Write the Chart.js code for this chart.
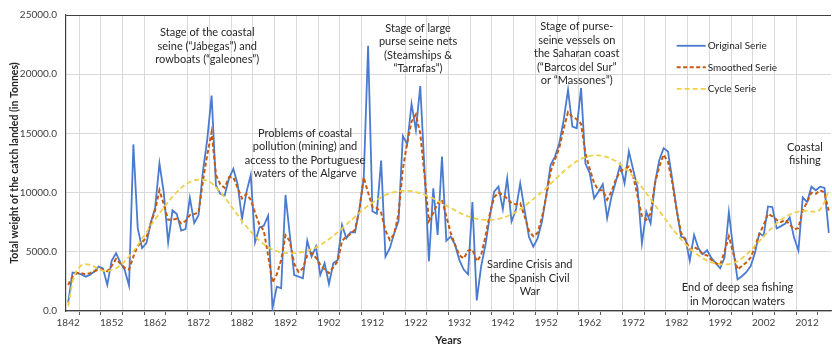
<!DOCTYPE html>
<html>
<head>
<meta charset="utf-8">
<script src="https://cdn.jsdelivr.net/npm/chart.js@4/dist/chart.umd.min.js"></script>
<style>
  html, body { margin: 0; padding: 0; background: #fff; }
  canvas { display: block; }
</style>
</head>
<body>
<canvas id="catchChart" width="832" height="344"></canvas>
<script>
const firstYear = 1842;

const originalSerie = [
  700, 3250, 3200, 3100, 2900, 3050, 3330, 3750, 3600, 2200,
  4240, 4890, 4100, 3470, 2150, 14070, 7000, 5310, 5730, 7430,
  8700, 12460, 9970, 5790, 8500, 8190, 6800, 6920, 9550, 7430,
  8100, 11800, 14500, 18200, 10600, 9900, 9750, 11200, 12000, 10700,
  7770, 10000, 11500, 5800, 7060, 7200, 8050, 230, 2060, 1920,
  9800, 6400, 3040, 2900, 2760, 5940, 4590, 5440, 3040, 4030,
  2280, 4030, 4310, 7270, 6140, 6650, 6650, 8600, 11200, 22400,
  8420, 8220, 12700, 4600, 5300, 6570, 7600, 14780, 14100, 17500,
  15300, 19000, 11800, 4200, 10370, 6420, 13040, 5940, 6280, 5600,
  4300, 3500, 3100, 9200, 900, 3750, 5580, 7970, 10080, 10510,
  8590, 11210, 7550, 8540, 10790, 8540, 6280, 5440, 6140, 7550,
  9800, 12340, 13040, 14170, 16140, 18680, 15580, 15440, 18820, 12480,
  11630, 9520, 10080, 10700, 7830, 9660, 10930, 12340, 10790, 13470,
  11920, 10370, 5720, 8390, 7410, 10790, 12760, 13750, 13470, 11070,
  8540, 6280, 6140, 4250, 6420, 5300, 4800, 5130, 4460, 4040,
  3600, 4500, 8360, 5200, 2670, 2940, 3280, 3780, 4890, 6560,
  6330, 8830, 8780, 6970, 7170, 7390, 7900, 6200, 5100, 9600,
  9200, 10500, 10200, 10500, 10400, 6600
];

const smoothedSerie = [
  2200, 2900, 3200, 3200, 3100, 3200, 3350, 3500, 3500, 3350,
  3800, 4400, 4000, 3650, 3500, 4600, 5500, 5800, 6200, 7400,
  8500, 10200, 9000, 7700, 7700, 7800, 7400, 7600, 8100, 8200,
  8300, 11000, 13200, 15100, 11500, 10700, 10400, 11300, 11300, 10400,
  9500, 9900, 9400, 8300, 7300, 6800, 4700, 2400, 3100, 4300,
  6400, 5900, 4000, 3300, 3600, 4700, 4900, 4500, 3900, 3500,
  3200, 3700, 4200, 5900, 6300, 6500, 6900, 8500, 11300, 10000,
  8800, 8700, 8300, 6800, 6000, 6500, 8200, 12000, 14200, 16000,
  16600, 15000, 11400, 7600, 8300, 9100, 9400, 8000, 6600, 5600,
  4700, 4450, 5100, 5200, 4200, 4700, 6300, 8200, 9600, 10000,
  9800, 9500, 9100, 9000, 9100, 8000, 6800, 6300, 6600, 7900,
  9700, 11800, 12800, 13800, 15400, 16800, 16400, 16200, 15800, 13300,
  12000, 10800, 10200, 10200, 9400, 10100, 11100, 11800, 12000, 12200,
  11350, 9700, 8000, 7700, 8250, 10800, 12200, 13200, 12600, 10800,
  8500, 6600, 6000, 5200, 5400, 5200, 4750, 4700, 4300, 4030,
  3900, 5000, 6300, 4900, 3500, 3800, 4100, 4500, 5400, 6500,
  7250, 8200, 8000, 7700, 7500, 7700, 7300, 6900, 7000, 8500,
  9200, 10000, 9900, 10200, 10000, 8400
];

const cycleSerie = [
  400, 2500, 3500, 3850, 3950, 3900, 3750, 3550, 3400, 3350,
  3450, 3600, 3850, 4200, 4600, 5050, 5550, 6100, 6650, 7200,
  7750, 8250, 8750, 9200, 9650, 10050, 10400, 10700, 10900, 11050,
  11100, 11100, 11000, 10800, 10450, 10050, 9600, 9100, 8600, 8100,
  7600, 7150, 6700, 6300, 5950, 5650, 5400, 5200, 5050, 4950,
  4900, 4870, 4880, 4920, 4980, 5080, 5200, 5350, 5550, 5800,
  6050, 6350, 6650, 6950, 7300, 7650, 7950, 8300, 8600, 8900,
  9150, 9400, 9600, 9800, 9950, 10050, 10120, 10150, 10150, 10120,
  10050, 9950, 9820, 9660, 9500, 9300, 9100, 8900, 8700, 8500,
  8300, 8150, 8000, 7880, 7780, 7720, 7690, 7690, 7720, 7780,
  7870, 8000, 8150, 8350, 8600, 8850, 9150, 9450, 9750, 10050,
  10400, 10750, 11100, 11450, 11800, 12100, 12400, 12650, 12850, 13000,
  13100, 13150, 13150, 13100, 13000, 12850, 12650, 12400, 12100, 11750,
  11350, 10900, 10450, 9950, 9450, 8950, 8450, 7950, 7450, 6950,
  6500, 6050, 5650, 5300, 4950, 4700, 4450, 4250, 4100, 4000,
  3950, 3930, 3950, 4050, 4200, 4450, 4750, 5100, 5500, 5900,
  6300, 6700, 7050, 7400, 7700, 7950, 8150, 8300, 8400, 8450,
  8450, 8400, 8400, 8550, 9200, 10200
];

const years = originalSerie.map((v, i) => String(firstYear + i));

const yTicks = [0, 5000, 10000, 15000, 20000, 25000];

// text boxes placed on the chart: anchor year and value of the first line
const notes = [
  { year: 1874, value: 23500, lines: ['Stage of the coastal', 'seine (“Jábegas”) and', 'rowboats (“galeones”)'] },
  { year: 1896.5, value: 15000, lines: ['Problems of coastal', 'pollution (mining) and', 'access to the Portuguese', 'waters of the Algarve'] },
  { year: 1922.5, value: 23900, lines: ['Stage of large', 'purse seine nets', '(Steamships &', '“Tarrafas”)'] },
  { year: 1959, value: 24000, lines: ['Stage of purse-', 'seine vessels on', 'the Saharan coast', '(“Barcos del Sur”', 'or “Massones”)'] },
  { year: 1948.2, value: 3900, lines: ['Sardine Crisis and', 'the Spanish Civil', 'War'] },
  { year: 1996, value: 1950, lines: ['End of deep sea fishing', 'in Moroccan waters'] },
  { year: 2011.5, value: 13850, lines: ['Coastal', 'fishing'] }
];

const textFont = '"Lato", "Open Sans", sans-serif';

const notesPlugin = {
  id: 'notes',
  afterDatasetsDraw(chart) {
    const { ctx, scales } = chart;
    ctx.save();
    ctx.font = '11px ' + textFont;
    ctx.fillStyle = '#262626';
    ctx.textAlign = 'center';
    ctx.textBaseline = 'middle';
    notes.forEach(n => {
      const x = scales.x.getPixelForValue(n.year - firstYear);
      const y = scales.y.getPixelForValue(n.value);
      n.lines.forEach((t, i) => ctx.fillText(t, x, y + i * 13.5));
    });
    ctx.restore();
  }
};

// legend drawn inside the plot, upper right
const innerLegend = {
  id: 'innerLegend',
  afterDatasetsDraw(chart) {
    const { ctx, scales } = chart;
    const x0 = scales.x.getPixelForValue(1982 - firstYear);
    const x1 = x0 + 29;
    const topValue = 22400;
    ctx.save();
    ctx.font = '10px ' + textFont;
    ctx.textBaseline = 'middle';
    chart.data.datasets.forEach((ds, i) => {
      const y = scales.y.getPixelForValue(topValue) + i * 21.5;
      ctx.strokeStyle = ds.borderColor;
      ctx.lineWidth = ds.borderWidth;
      ctx.setLineDash(ds.borderDash || []);
      ctx.beginPath();
      ctx.moveTo(x0, y);
      ctx.lineTo(x1, y);
      ctx.stroke();
      ctx.fillStyle = '#262626';
      ctx.fillText(ds.label, x1 + 2, y);
    });
    ctx.restore();
  }
};

const ctx = document.getElementById('catchChart').getContext('2d');

new Chart(ctx, {
  type: 'line',
  data: {
    labels: years,
    datasets: [
      {
        label: 'Original Serie',
        data: originalSerie,
        borderColor: '#4a7bd0',
        borderWidth: 1.8,
        pointRadius: 0,
        order: 2
      },
      {
        label: 'Smoothed Serie',
        data: smoothedSerie,
        borderColor: '#c55a11',
        borderWidth: 2,
        borderDash: [4, 2.5],
        pointRadius: 0,
        order: 1
      },
      {
        label: 'Cycle Serie',
        data: cycleSerie,
        borderColor: '#efd04a',
        borderWidth: 1.8,
        borderDash: [5, 3],
        pointRadius: 0,
        order: 0
      }
    ]
  },
  options: {
    responsive: false,
    devicePixelRatio: 1,
    animation: false,
    layout: { padding: { top: 15, right: 1, left: 0, bottom: 0 } },
    plugins: {
      legend: { display: false },
      tooltip: { enabled: false }
    },
    scales: {
      x: {
        offset: true,
        grid: {
          offset: true,
          color: c => ((c.index % 10) === 5 ? 'rgba(0,0,0,0)' : '#d9d9d9'),
          tickColor: '#595959',
          tickLength: 4
        },
        border: { color: '#404040', width: 1.2 },
        ticks: {
          autoSkip: false,
          maxRotation: 0,
          padding: 2,
          color: '#404040',
          font: { family: textFont, size: 10 },
          callback: function (val, index) {
            const y = firstYear + index;
            if ((y - firstYear) % 10 === 0) return this.getLabelForValue(val);
            if ((y - firstYear) % 10 === 5) return '';
            return null;
          }
        },
        title: {
          display: true,
          text: 'Years',
          color: '#262626',
          font: { family: textFont, size: 11, weight: 'bold' },
          padding: { top: 0, bottom: -3 }
        },
        afterFit: s => { s.height = 33; }
      },
      y: {
        min: 0,
        max: 25000,
        afterBuildTicks: s => { s.ticks = yTicks.map(v => ({ value: v })); },
        grid: {
          color: c => (c.tick && c.tick.value === 25000 ? '#404040' : '#d9d9d9'),
          drawTicks: false
        },
        border: { color: '#404040', width: 1.2 },
        ticks: {
          padding: 9,
          color: '#404040',
          font: { family: textFont, size: 10 },
          callback: v => Number(v).toFixed(1)
        },
        title: {
          display: true,
          text: 'Total weight of the catch landed (in Tonnes)',
          color: '#262626',
          font: { family: textFont, size: 10.5, weight: 'bold' },
          padding: { top: 8, bottom: 0 }
        },
        afterFit: s => { s.width = 66; }
      }
    }
  },
  plugins: [notesPlugin, innerLegend]
});
</script>
</body>
</html>
